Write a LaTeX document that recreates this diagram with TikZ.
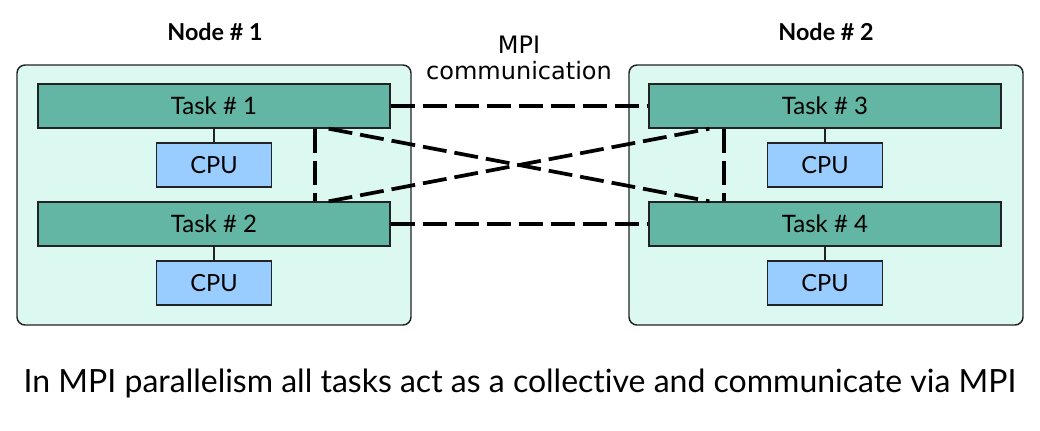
\documentclass[tikz,border=0pt]{standalone}
\usepackage{fontspec}
\setmainfont{Lato}[Ligatures={TeX,NoCommon}]
\newfontfamily\dejavu{DejaVu Sans}
\definecolor{nodefill}{HTML}{DBF8F1}
\definecolor{taskfill}{HTML}{63B5A4}
\definecolor{cpufill}{HTML}{99CCFF}
\definecolor{edge}{HTML}{222222}
\tikzset{
    nodebox/.style={draw=edge, line width=1.1pt, fill=nodefill, rounded corners=6pt,
        minimum width=295.5pt, minimum height=195pt},
    taskbox/.style={draw=edge, line width=1pt, fill=taskfill, minimum width=264pt,
        minimum height=33pt, font=\fontsize{18}{21}\selectfont},
    cpubox/.style={draw=edge, line width=1pt, fill=cpufill, minimum width=86.25pt,
        minimum height=33pt, font=\fontsize{17.7}{21}\selectfont},
    mpiline/.style={line width=2.8pt, dash pattern=on 18pt off 6pt},
}
\begin{document}
\begin{tikzpicture}[x=0.75pt, y=-0.75pt]
        \useasboundingbox (0,0) rectangle (1040,430);
        \node[nodebox] at(214, 195) (n1) {};
        \node[nodebox] at(826, 195) (n2) {};
        \node[font=\bfseries\fontsize{17.5}{20}\selectfont] at(215, 32) (l1) {Node \# 1};
        \node[font=\bfseries\fontsize{17.5}{20}\selectfont] at(826, 32) (l2) {Node \# 2};
        \node[font=\dejavu\fontsize{18}{19}\selectfont, align=center] at(519, 58) (mpi) {MPI\\communication};
        \node[taskbox] at(214, 106) (t1) {Task \# 1};
        \node[taskbox] at(214, 224) (t2) {Task \# 2};
        \node[taskbox] at(825, 106) (t3) {Task \# 3};
        \node[taskbox] at(825, 224) (t4) {Task \# 4};
        \node[cpubox] at(214, 165) (c1) {CPU};
        \node[cpubox] at(214, 283) (c2) {CPU};
        \node[cpubox] at(825, 165) (c3) {CPU};
        \node[cpubox] at(825, 283) (c4) {CPU};
        \draw[edge, line width=0.8pt] (t1) -- (c1);
        \draw[edge, line width=0.8pt] (t2) -- (c2);
        \draw[edge, line width=0.8pt] (t3) -- (c3);
        \draw[edge, line width=0.8pt] (t4) -- (c4);
        \draw[mpiline] (t1) -- (t3);
        \draw[mpiline] (t2) -- (t4);
        \draw[mpiline] ([xshift=-57pt]t1.south east) -- ([xshift=-57pt]t2.north east);
        \draw[mpiline] ([xshift=57pt]t3.south west) -- ([xshift=57pt]t4.north west);
        \draw[mpiline] ([xshift=-46.5pt]t1.south east) -- ([xshift=45.75pt]t4.north west);
        \draw[mpiline] ([xshift=-46.5pt]t2.north east) -- ([xshift=45.75pt]t3.south west);
        \node[font=\fontsize{24}{28}\selectfont] at(520, 383) (cap) {In MPI parallelism all tasks act as a collective and communicate via MPI};
    \end{tikzpicture}
\end{document}
